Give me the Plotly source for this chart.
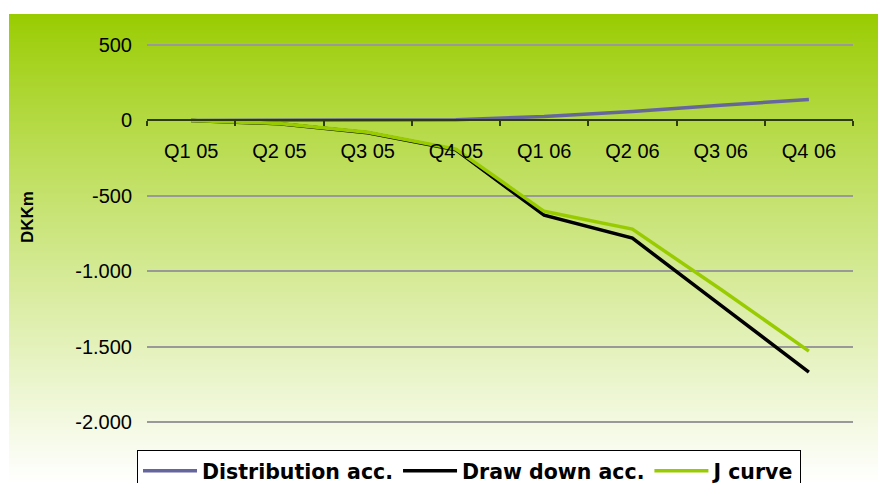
import plotly.graph_objects as go
import zlib, struct, base64

categories = ["Q1 05", "Q2 05", "Q3 05", "Q4 05", "Q1 06", "Q2 06", "Q3 06", "Q4 06"]
distribution_acc = [0, 2, 3, 5, 26, 60, 100, 139]
draw_down_acc = [0, -22, -82, -195, -629, -781, -1225, -1669]
j_curve = [0, -20, -79, -190, -603, -721, -1120, -1530]
y_tickvals = [500, 0, -500, -1000, -1500, -2000]
y_ticktext = ["500", "0", "-500", "-1.000", "-1.500", "-2.000"]

W, H = 878, 483
L, R, T, B = 147, 853, 30, 437


def px_x(px):
    return (px - L) / (R - L)


def px_y(py):
    return (B - py) / (B - T)


# vertical gradient PNG (1 px wide)
def gradient_png(n=256):
    top = (153, 204, 0)
    bot = (255, 255, 255)
    raw = b""
    for i in range(n):
        f = i / (n - 1)
        f = f ** 0.9
        c = bytes(int(round(top[k] + (bot[k] - top[k]) * f)) for k in range(3))
        raw += b"\x00" + c
    def chunk(t, d):
        return struct.pack(">I", len(d)) + t + d + struct.pack(">I", zlib.crc32(t + d) & 0xffffffff)
    png = b"\x89PNG\r\n\x1a\n"
    png += chunk(b"IHDR", struct.pack(">IIBBBBB", 1, n, 8, 2, 0, 0, 0))
    png += chunk(b"IDAT", zlib.compress(raw))
    png += chunk(b"IEND", b"")
    return "data:image/png;base64," + base64.b64encode(png).decode()


fig = go.Figure()
fig.add_trace(go.Scatter(x=categories, y=distribution_acc, name="Distribution acc.",
                         mode="lines", line=dict(color="#66669e", width=3.5)))
fig.add_trace(go.Scatter(x=categories, y=draw_down_acc, name="Draw down acc.",
                         mode="lines", line=dict(color="#000000", width=3.5)))
fig.add_trace(go.Scatter(x=categories, y=j_curve, name="J curve",
                         mode="lines", line=dict(color="#99cc00", width=3.5)))

y0 = -2100
y1 = 600
zero_pos = (0 - y0) / (y1 - y0)

fig.update_layout(
    width=W, height=H,
    margin=dict(l=L, r=W - R, t=T, b=H - B, autoexpand=False),
    paper_bgcolor="white",
    plot_bgcolor="rgba(0,0,0,0)",
    font=dict(family="Liberation Sans, Arial, sans-serif", size=20, color="black"),
    showlegend=True,
    legend=dict(orientation="h", x=px_x(137), y=px_y(450), xanchor="left", yanchor="top",
                bgcolor="white", bordercolor="black", borderwidth=1,
                font=dict(family="DejaVu Sans, sans-serif", size=20.5, weight="bold"),
                itemwidth=54, tracegroupgap=0),
    images=[dict(source=gradient_png(), xref="paper", yref="paper",
                 x=px_x(9), y=px_y(14), sizex=(W - 9) / (R - L), sizey=(H - 14) / (B - T),
                 xanchor="left", yanchor="top", sizing="stretch", layer="below")],
    xaxis=dict(type="category", range=[-0.5, 7.5], tickson="boundaries",
               anchor="free", position=zero_pos, showgrid=False, zeroline=False,
               showline=True, linecolor="#2e3a10", linewidth=1.5,
               ticks="outside", ticklen=5, tickcolor="#2e3a10", tickwidth=1.5,
               ticklabelstandoff=13, tickfont=dict(size=20)),
    yaxis=dict(range=[y0, y1], tickvals=y_tickvals, ticktext=y_ticktext,
               showgrid=True, gridcolor="#999999", gridwidth=2, zeroline=False,
               showline=False, ticks="", ticklabelstandoff=14, tickfont=dict(size=20)),
    annotations=[dict(text="<b>DKKm</b>", xref="paper", yref="paper",
                      x=px_x(27), y=px_y(217), textangle=-90, showarrow=False,
                      font=dict(size=17), xanchor="center", yanchor="middle")],
)

fig.write_html("out.html")
